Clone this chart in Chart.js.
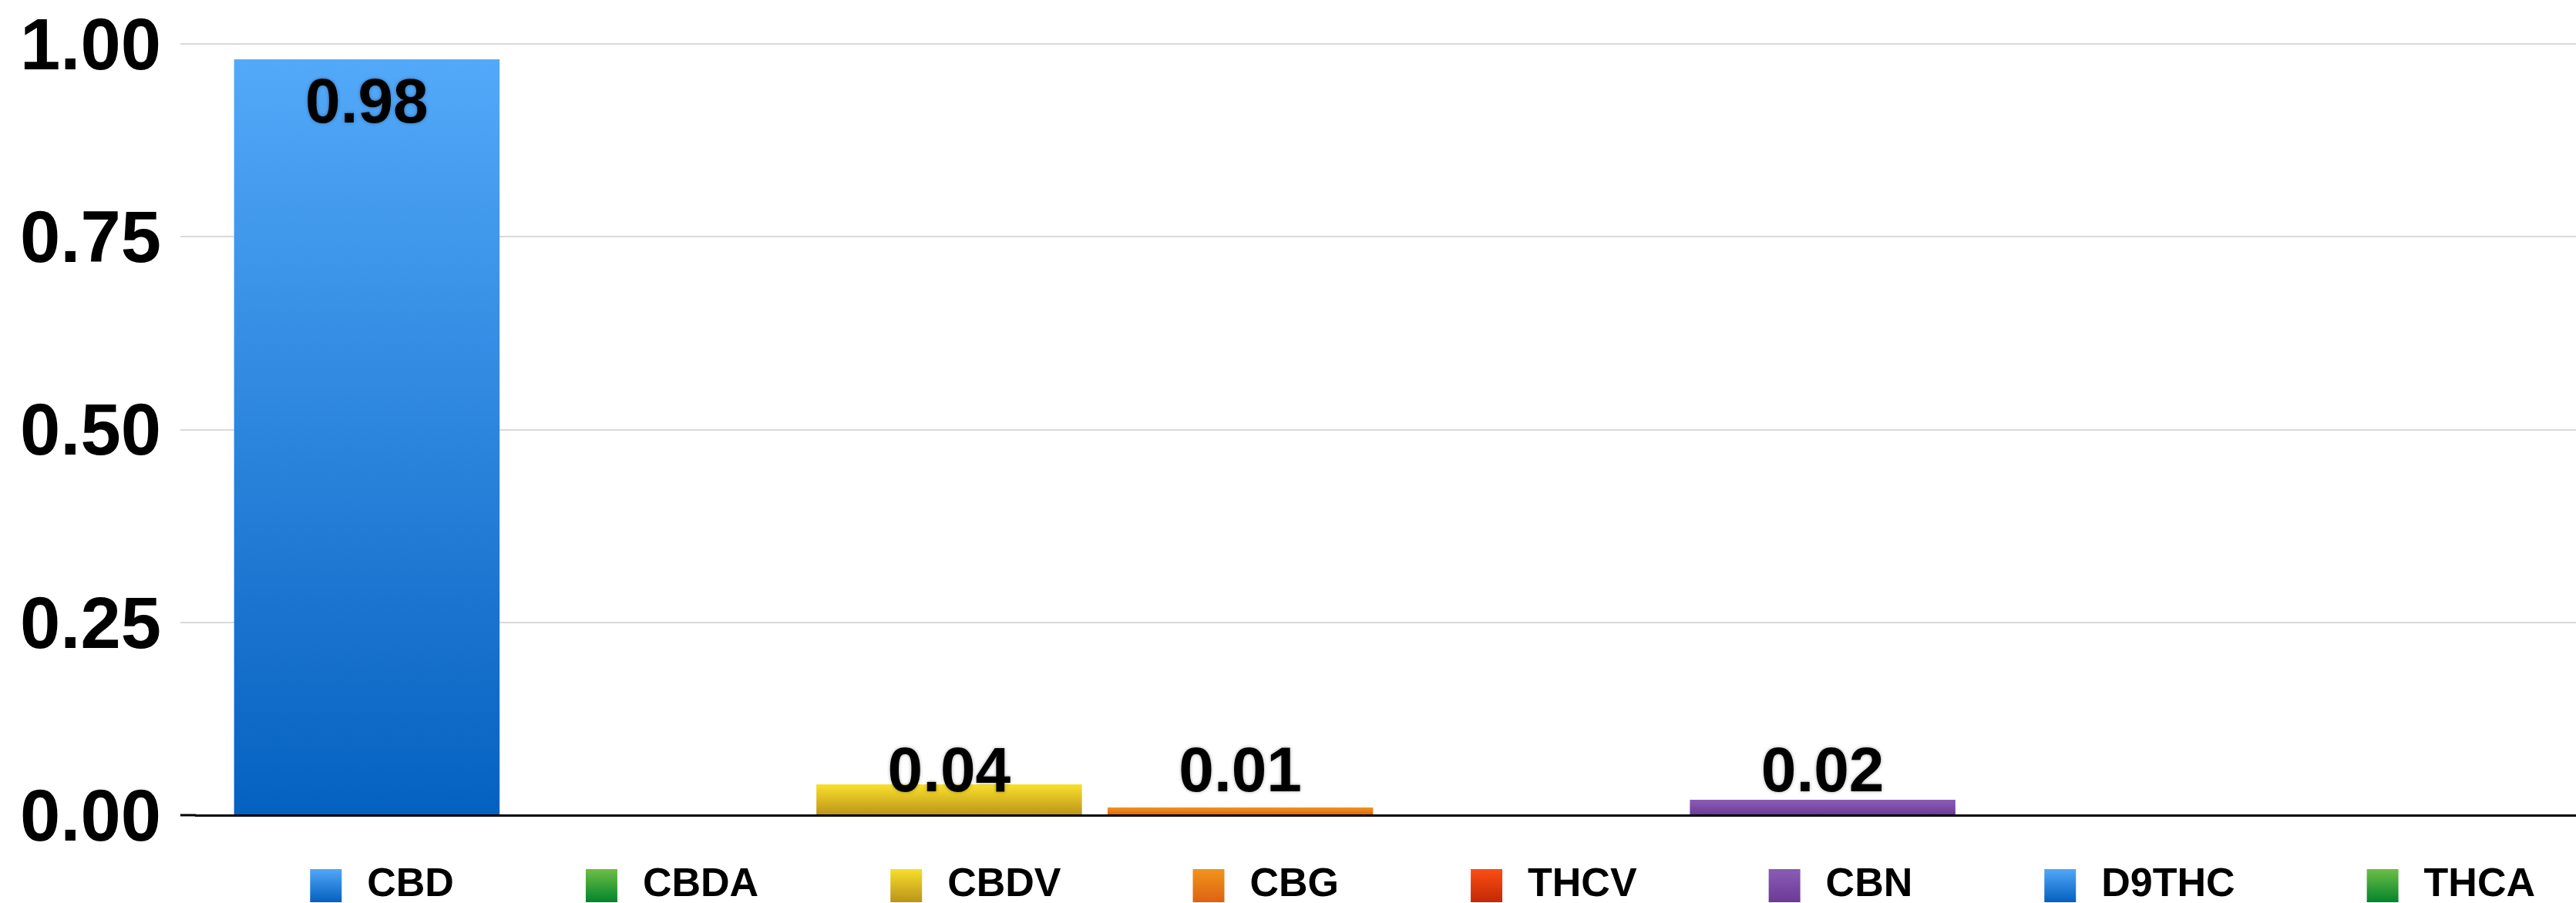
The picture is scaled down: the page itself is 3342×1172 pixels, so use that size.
<!DOCTYPE html>
<html>
<head>
<meta charset="utf-8">
<script src="https://cdn.jsdelivr.net/npm/chart.js@4/dist/chart.umd.min.js"></script>
<style>
  html, body { margin: 0; padding: 0; background: #fff; }
  canvas { display: block; }
</style>
</head>
<body>
<canvas id="cannabinoidChart" width="3342" height="1172"></canvas>
<script>
var compounds = ["CBD", "CBDA", "CBDV", "CBG", "THCV", "CBN", "D9THC", "THCA"];
var amounts = [0.98, 0, 0.04, 0.01, 0, 0.02, 0, 0];
var yTicks = [0, 0.25, 0.5, 0.75, 1];

var topColors = ["#53a9f9", "#6fc046", "#f9e02b", "#f2951d", "#fc4f17", "#8b5db6", "#53a9f9", "#6fc046"];
var bottomColors = ["#0561c0", "#04852c", "#bb9419", "#dd6312", "#c42905", "#6d3a97", "#0561c0", "#04852c"];

var FONT = "'Liberation Sans', Arial, Helvetica, sans-serif";

// legend swatch: transparent lead-in then the gradient square
function makeSwatch(i) {
    var c = document.createElement("canvas");
    c.width = 166;
    c.height = 43;
    var g = c.getContext("2d");
    var grad = g.createLinearGradient(0, 0, 0, 43);
    grad.addColorStop(0, topColors[i]);
    grad.addColorStop(1, bottomColors[i]);
    g.fillStyle = grad;
    g.fillRect(118, 0, 41, 43);
    return c;
}
var swatches = compounds.map(function (n, i) { return makeSwatch(i); });

function barFill(i) {
    return function (ctx) {
        var chart = ctx.chart;
        if (!chart.chartArea || ctx.type !== "data") return bottomColors[i];
        var y = chart.scales.y;
        var top = y.getPixelForValue(ctx.raw);
        var base = y.getPixelForValue(0);
        if (base - top < 1) return bottomColors[i];
        var grad = chart.ctx.createLinearGradient(0, top, 0, base);
        grad.addColorStop(0, topColors[i]);
        grad.addColorStop(1, bottomColors[i]);
        return grad;
    };
}

var valueLabels = {
    id: "valueLabels",
    afterDatasetsDraw: function (chart) {
        var ctx = chart.ctx;
        ctx.save();
        ctx.font = "bold 82px " + FONT;
        ctx.textAlign = "center";
        ctx.textBaseline = "middle";
        ctx.fillStyle = "#000";
        ctx.shadowColor = "rgba(0,0,0,0.35)";
        ctx.shadowBlur = 4;
        chart.data.datasets.forEach(function (ds, i) {
            chart.getDatasetMeta(i).data.forEach(function (bar, j) {
                var v = ds.data[j];
                if (!v) return;
                var y = Math.min(bar.y + 59, bar.base - 53);
                ctx.fillText(v.toFixed(2), bar.x, y);
            });
        });
        ctx.restore();
    },
};

var ctx1 = document.getElementById("cannabinoidChart").getContext("2d");

new Chart(ctx1, {
    type: "bar",
    data: {
        labels: [""],
        datasets: compounds.map(function (name, i) {
            return {
                label: name,
                data: [amounts[i]],
                backgroundColor: barFill(i),
                borderWidth: 0,
                categoryPercentage: 0.9786,
                barPercentage: 0.912,
            };
        }),
    },
    options: {
        responsive: false,
        devicePixelRatio: 1,
        animation: false,
        layout: {
            padding: { left: 0, top: 57, right: 0, bottom: -13 },
        },
        scales: {
            x: {
                ticks: { display: false },
                grid: {
                    display: true,
                    drawOnChartArea: false,
                    drawTicks: true,
                    tickLength: 12,
                    color: "rgba(0,0,0,0)",
                },
                border: { display: true, color: "#000", width: 3 },
            },
            y: {
                min: 0,
                max: 1,
                afterBuildTicks: function (axis) {
                    axis.ticks = yTicks.map(function (v) { return { value: v }; });
                },
                afterFit: function (axis) {
                    axis.width = 254;
                    axis.paddingTop = 0;
                    axis.paddingBottom = 0;
                },
                ticks: {
                    color: "#000",
                    padding: 25,
                    labelOffset: 7,
                    font: { family: FONT, size: 94, weight: "bold" },
                    callback: function (v) { return Number(v).toFixed(2); },
                },
                grid: {
                    color: "#d9d9d9",
                    lineWidth: 2,
                    drawTicks: true,
                    tickLength: 20,
                    tickColor: function (c) { return c.tick && c.tick.value === 0 ? "#000" : "#d9d9d9"; },
                    tickWidth: function (c) { return c.tick && c.tick.value === 0 ? 3 : 2; },
                },
                border: { display: false },
            },
        },
        plugins: {
            tooltip: { enabled: false },
            legend: {
                position: "bottom",
                align: "end",
                labels: {
                    usePointStyle: true,
                    pointStyleWidth: 166,
                    padding: 53,
                    color: "#000",
                    font: { family: FONT, size: 52, weight: "bold" },
                    generateLabels: function (chart) {
                        return Chart.defaults.plugins.legend.labels.generateLabels(chart).map(function (item) {
                            item.pointStyle = swatches[item.datasetIndex];
                            item.fontColor = "#000";
                            return item;
                        });
                    },
                },
            },
        },
    },
    plugins: [valueLabels],
});
</script>
</body>
</html>
